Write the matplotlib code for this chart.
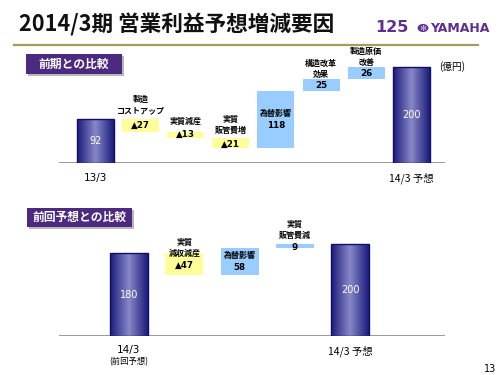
import matplotlib
matplotlib.use("Agg")
import matplotlib.pyplot as plt
import numpy as np
from matplotlib.patches import Rectangle, Circle
from matplotlib.colors import LinearSegmentedColormap

plt.rcParams['font.family'] = ['Noto Sans CJK JP', 'DejaVu Sans']

# ---- data ----
top_labels = ["", "製造\nコストアップ", "実質減産", "実質\n販管費増", "為替影響", "構造改革\n効果", "製造原価\n改善", ""]
top_values = [92, -27, -13, -21, 118, 25, 26, 200]
top_kind = ["total", "down", "down", "down", "up", "up", "up", "total"]
top_text = ["92", "▲27", "▲13", "▲21", "118", "25", "26", "200"]
top_xlabels = ["13/3", "14/3 予想"]

bot_labels = ["", "実質\n減収減産", "為替影響", "実質\n販管費減", ""]
bot_values = [180, -47, 58, 9, 200]
bot_kind = ["total", "down", "up", "up", "total"]
bot_text = ["180", "▲47", "58", "9", "200"]
bot_xlabels = ["14/3", "14/3 予想"]
bot_sublabel = "(前回予想)"

W, H = 500, 375
fig = plt.figure(figsize=(5, 3.75), dpi=100)
fig.patch.set_facecolor("white")

def fx(px):
    return px / W

def fy(py):
    return 1 - py / H

# title
fig.text(fx(19), fy(25), "2014/3期 営業利益予想増減要因", fontsize=15.6, fontweight='bold',
         ha='left', va='center', color='#111111')
fig.add_artist(plt.Line2D([fx(14), fx(478)], [fy(45), fy(45)], color='#a39d5c', lw=1.6))

# logo
purple = '#5e2f8f'
fig.text(fx(375), fy(28), "125", fontsize=11.5, fontweight='heavy', color=purple, ha='left', va='center',
         family='DejaVu Sans')
circ = Circle((fx(423), fy(28)), 5.4 / W, transform=fig.transFigure, facecolor=purple, edgecolor='none')
fig.add_artist(circ)
fig.text(fx(423), fy(28), "✻", fontsize=6, color='#d8c8e8', ha='center', va='center', family='DejaVu Sans')
fig.text(fx(430), fy(28.5), "YAMAHA", fontsize=9, fontweight='bold', color=purple, ha='left', va='center',
         family='DejaVu Sans')

def label_box(x0, y0, x1, y1, text):
    sh = Rectangle((fx(x0 + 2), fy(y1 + 2)), fx(x1 - x0), (y1 - y0) / H, transform=fig.transFigure,
                   facecolor='#b8b8b8', edgecolor='none')
    fig.add_artist(sh)
    r = Rectangle((fx(x0), fy(y1)), fx(x1 - x0), (y1 - y0) / H, transform=fig.transFigure,
                  facecolor='#4b2a80', edgecolor='none')
    fig.add_artist(r)
    fig.text(fx((x0 + x1) / 2), fy((y0 + y1) / 2), text, color='white', fontsize=8.5, fontweight='bold',
             ha='center', va='center')

label_box(26, 54, 122, 74, "前期との比較")
label_box(27, 208, 132, 227, "前回予想との比較")

cmap = LinearSegmentedColormap.from_list("navy", ['#1c1c7c', '#8686c6'])
gradient = np.concatenate([np.linspace(0, 1, 32), np.linspace(1, 0, 32)])[None, :]

def waterfall(ax, values, kind, texts, width):
    running = 0
    for i, (v, k) in enumerate(zip(values, kind)):
        if k == "total":
            running = v
            bar = ax.bar(i, v, width=width, bottom=0, facecolor='none', edgecolor='#10106a', lw=1, zorder=4)[0]
            im = ax.imshow(gradient, cmap=cmap, aspect='auto',
                           extent=(i - width / 2, i + width / 2, 0, v), zorder=3)
            im.set_clip_path(bar)
            ax.text(i, v / 2, texts[i], color='white', fontsize=7, ha='center', va='center', zorder=5,
                    family='DejaVu Sans')
        else:
            if v < 0:
                bottom, height, col = running + v, -v, '#ffff99'
            else:
                bottom, height, col = running, v, '#99ccff'
            running += v
            ax.bar(i, height, width=width, bottom=bottom, color=col, edgecolor='none', zorder=3)

def val(ax, x, y, s):
    ax.text(x, y, s, fontsize=6.3, fontweight='bold', ha='center', va='center', zorder=5,
            family='DejaVu Sans')

# ---- top chart ----
top_base, top_scale = 163, 0.48
top_ymax = 220
axT = fig.add_axes([fx(59), fy(top_base), fx(445 - 59), top_ymax * top_scale / H])
sp = 45.1
axT.set_xlim(-(95.5 - 59) / sp, (445 - 95.5) / sp)
axT.set_ylim(0, top_ymax)
axT.axis('off')
axT.axhline(0, color='#888888', lw=1.2, zorder=2)
waterfall(axT, top_values, top_kind, top_text, 37 / sp)

def tv(py):
    return (top_base - py) / top_scale

fs = 5.8
val(axT, 1, tv(125), top_text[1])
axT.text(1, tv(105), top_labels[1], fontsize=fs, fontweight='bold', ha='center', va='center', linespacing=1.3)
val(axT, 2, tv(134.5), top_text[2])
axT.text(2, tv(121), top_labels[2], fontsize=fs, fontweight='bold', ha='center', va='center')
val(axT, 3, tv(144), top_text[3])
axT.text(3, tv(125), top_labels[3], fontsize=fs, fontweight='bold', ha='center', va='center', linespacing=1.3)
axT.text(4, tv(113), top_labels[4], fontsize=fs, fontweight='bold', ha='center', va='center', zorder=5)
val(axT, 4, tv(125), top_text[4])
val(axT, 5, tv(85.5), top_text[5])
axT.text(5, tv(68.5), top_labels[5], fontsize=fs, fontweight='bold', ha='center', va='center', linespacing=1.3)
val(axT, 6, tv(73), top_text[6])
axT.text(6, tv(57), top_labels[6], fontsize=fs, fontweight='bold', ha='center', va='center', linespacing=1.3)
fig.text(fx(452), fy(67), "(億円)", fontsize=7, ha='center', va='center')
axT.text(0, tv(178), top_xlabels[0], fontsize=7.5, ha='center', va='center', clip_on=False, family='DejaVu Sans')
axT.text(7, tv(178), top_xlabels[1], fontsize=7.5, ha='center', va='center', clip_on=False)

# ---- bottom chart ----
bot_base, bot_scale = 336, 0.46
bot_ymax = 220
axB = fig.add_axes([fx(59), fy(bot_base), fx(445 - 59), bot_ymax * bot_scale / H])
spb = 55.3
axB.set_xlim(-(129 - 59) / spb, (445 - 129) / spb)
axB.set_ylim(0, bot_ymax)
axB.axis('off')
axB.axhline(0, color='#888888', lw=1.2, zorder=2)
waterfall(axB, bot_values, bot_kind, bot_text, 38 / spb)

def bv(py):
    return (bot_base - py) / bot_scale

val(axB, 1, bv(265), bot_text[1])
axB.text(1, bv(248), bot_labels[1], fontsize=fs, fontweight='bold', ha='center', va='center', linespacing=1.3, zorder=5)
axB.text(2, bv(255), bot_labels[2], fontsize=fs, fontweight='bold', ha='center', va='center', zorder=5)
val(axB, 2, bv(267), bot_text[2])
val(axB, 3, bv(247.5), bot_text[3])
axB.text(3, bv(229.5), bot_labels[3], fontsize=fs, fontweight='bold', ha='center', va='center', linespacing=1.3)
axB.text(0, bv(350), bot_xlabels[0], fontsize=7.5, ha='center', va='center', clip_on=False, family='DejaVu Sans')
axB.text(0, bv(362), bot_sublabel, fontsize=6, ha='center', va='center', clip_on=False)
axB.text(4, bv(351), bot_xlabels[1], fontsize=7.5, ha='center', va='center', clip_on=False)

fig.text(fx(490), fy(369), "13", fontsize=7, ha='center', va='center', family='DejaVu Sans')

fig.savefig("out.png", dpi=100, facecolor='white')
